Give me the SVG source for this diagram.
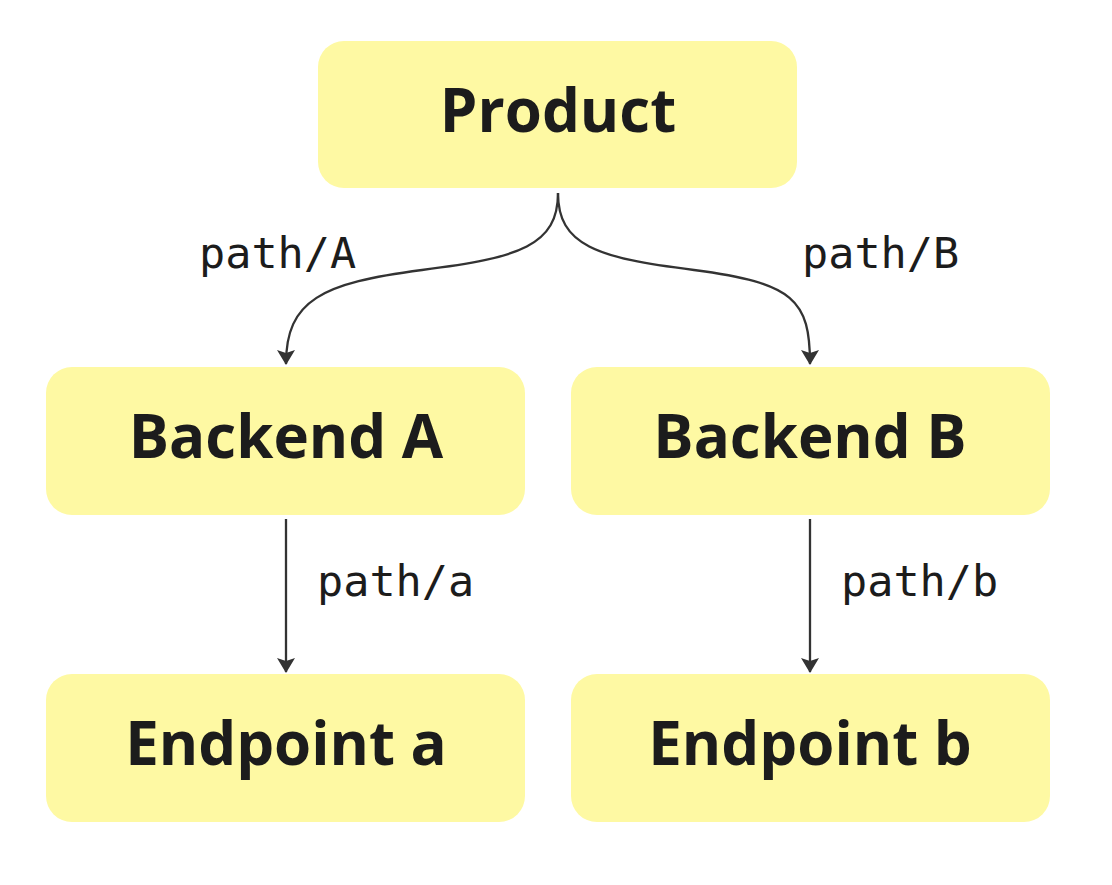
<svg xmlns="http://www.w3.org/2000/svg" width="1112" height="885" viewBox="0 0 1112 885">
<defs>
<style>
.box{fill:#fef9a3;}
.t{font-family:"Open Sans","Noto Sans",sans-serif;font-weight:700;font-size:60px;fill:#1c1c1c;text-anchor:middle;}
.lbl{font-family:"DejaVu Sans Mono",monospace;font-size:43.5px;fill:#1c1c1c;}
.c{fill:none;stroke:#333;stroke-width:2.3;}
</style>
<marker id="ah" viewBox="0 0 15 18" refX="14" refY="9" markerWidth="15" markerHeight="18" markerUnits="userSpaceOnUse" orient="auto">
<path d="M0,0 L15,9 L0,18 L3,9 Z" fill="#333"/>
</marker>
</defs>
<rect width="1112" height="885" fill="#fff"/>
<g id="connectors">
<path class="c" d="M558,193 C558,245 520,258 422,270 C322,283 286,300 286,364" marker-end="url(#ah)"/>
<path class="c" d="M558,193 C558,245 596,258 694,270 C794,283 810,300 810,364" marker-end="url(#ah)"/>
<path class="c" d="M286,519 L286,672" marker-end="url(#ah)"/>
<path class="c" d="M810,519 L810,672" marker-end="url(#ah)"/>
<text class="lbl" x="199" y="268">path/A</text>
<text class="lbl" x="802" y="268">path/B</text>
<text class="lbl" x="317" y="596">path/a</text>
<text class="lbl" x="841" y="596">path/b</text>
</g>
<g id="product"><rect class="box" x="318" y="41" width="479" height="147" rx="26"/><text class="t" x="558" y="132">Product</text></g>
<g id="backendA"><rect class="box" x="46" y="367" width="479" height="148" rx="26"/><text class="t" x="286" y="458">Backend A</text></g>
<g id="backendB"><rect class="box" x="571" y="367" width="479" height="148" rx="26"/><text class="t" x="810" y="458">Backend B</text></g>
<g id="endpointA"><rect class="box" x="46" y="674" width="479" height="148" rx="26"/><text class="t" x="286" y="765">Endpoint a</text></g>
<g id="endpointB"><rect class="box" x="571" y="674" width="479" height="148" rx="26"/><text class="t" x="810" y="765">Endpoint b</text></g>
</svg>
